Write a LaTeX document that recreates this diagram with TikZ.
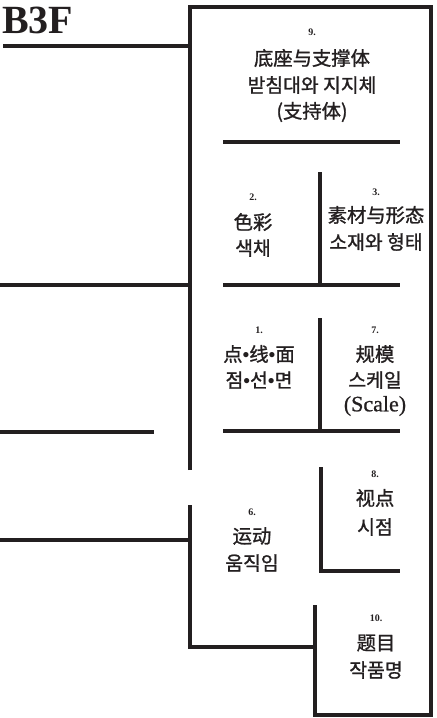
\documentclass[tikz,border=0pt]{standalone}
\usepackage{fontspec}
\setmainfont{Liberation Serif}
\newfontfamily\cjk[FakeBold=1.2]{Noto Sans CJK SC}
\newfontfamily\latinmid[FakeBold=0.8]{Liberation Serif}
\usepackage{tikz}
\definecolor{wall}{HTML}{231F20}
\newcommand{\dotsep}{{\rmfamily\bfseries •}}
\tikzset{
  wallline/.style={line width=2.6pt, color=wall},
  roomnum/.style={font=\bfseries\fontsize{7.5}{8}\selectfont, color=wall, inner sep=0pt},
  roomtext/.style={font=\cjk\fontsize{14.5}{16}\selectfont, color=wall, inner sep=0pt}
}

\begin{document}
\begin{tikzpicture}[x=0.75pt,y=-0.75pt]
\useasboundingbox (0,0) rectangle (436,718);
\coordinate (tl) at (190,7);
\coordinate (tr) at (431,7);
\coordinate (br) at (431,715);
\coordinate (bm) at (315,715);
\coordinate (gapt) at (190,470);
\coordinate (gapb) at (190,505);
\coordinate (bl) at (190,647);
\coordinate (bj) at (315,647);
\coordinate (bk) at (315,605);
 \draw[wallline] (gapt) -- (tl) -- (tr) -- (br) -- (bm) -- (bk);
 \draw[wallline] (gapb) -- (bl) -- (bj);
 \draw[wallline] (3,46) -- (190,46);
 \draw[wallline] (0,285) -- (190,285);
 \draw[wallline] (0,432) -- (154,432);
 \draw[wallline] (0,540) -- (190,540);
 \draw[wallline] (223,142) -- (400,142);
 \draw[wallline] (320,172) -- (320,285);
 \draw[wallline] (223,285) -- (400,285);
 \draw[wallline] (320,318) -- (320,431);
 \draw[wallline] (223,431) -- (400,431);
 \draw[wallline] (321,467) -- (321,571) -- (400,571);
 \node[anchor=base west, font=\bfseries\fontsize{30}{32}\selectfont, color=wall, inner sep=0pt] (floor) at (2,33) {B3F};
 \node[roomnum] (n9) at (312,32) {9.};
 \node[roomtext] (r9a) at (312,58) {底座与支撑体};
 \node[roomtext] (r9b) at (312,85) {받침대와 지지체};
 \node[roomtext] (r9c) at (312,112) {(支持体)};
 \node[roomnum] (n2) at (253,197) {2.};
 \node[roomtext] (r2a) at (253,222) {色彩};
 \node[roomtext] (r2b) at (253,248) {색채};
 \node[roomnum] (n3) at (376,192) {3.};
 \node[roomtext] (r3a) at (376,215) {素材与形态};
 \node[roomtext] (r3b) at (376,242) {소재와 형태};
 \node[roomnum] (n1) at (259,330) {1.};
 \node[roomtext] (r1a) at (259,354) {点\dotsep 线\dotsep 面};
 \node[roomtext] (r1b) at (259,380) {점\dotsep 선\dotsep 면};
 \node[roomnum] (n7) at (375,330) {7.};
 \node[roomtext] (r7a) at (375,354) {规模};
 \node[roomtext] (r7b) at (375,380) {스케일};
 \node[roomtext, font=\latinmid\fontsize{16.5}{18}\selectfont] (r7c) at (375,406) {(Scale)};
 \node[roomnum] (n8) at (375,474) {8.};
 \node[roomtext] (r8a) at (375,498) {视点};
 \node[roomtext] (r8b) at (375,527) {시점};
 \node[roomnum] (n6) at (252,512) {6.};
 \node[roomtext] (r6a) at (252,536) {运动};
 \node[roomtext] (r6b) at (252,563) {움직임};
 \node[roomnum] (n10) at (376,618) {10.};
 \node[roomtext] (r10a) at (376,643) {题目};
 \node[roomtext] (r10b) at (376,670) {작품명};
\end{tikzpicture}
\end{document}
